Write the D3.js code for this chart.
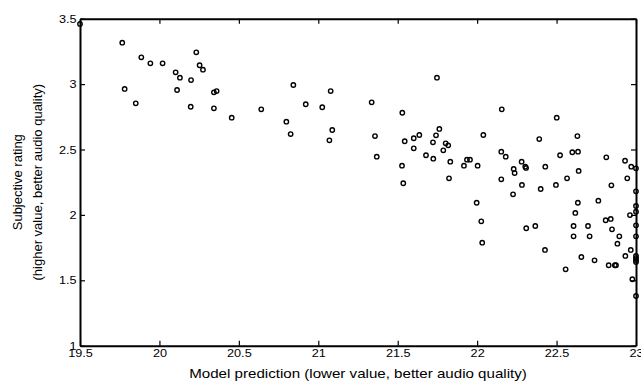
<!DOCTYPE html>
<html>
<head>
<meta charset="utf-8">
<script src="https://cdn.jsdelivr.net/npm/d3@7"></script>
<style>
  body { margin: 0; background: #fff; }
  text { font-family: "Liberation Sans", Arial, Helvetica, sans-serif; }
</style>
</head>
<body>
<div id="chart"></div>
<script>
// model prediction (x) and subjective rating (y)
const prediction = [
    19.5, 19.766, 19.781, 19.851, 19.886, 19.943, 20.02, 20.102, 20.129, 20.111,
    20.199, 20.232, 20.253, 20.274, 20.197, 20.343, 20.36, 20.343, 20.455, 20.641,
    20.799, 20.826, 20.843, 20.921, 21.025, 21.078, 21.088, 21.07, 21.336, 21.357,
    21.368, 21.529, 21.527, 21.535, 21.544, 21.601, 21.601, 21.636, 21.747, 21.678,
    21.724, 21.722, 21.741, 21.762, 21.787, 21.802, 21.818, 21.831, 21.823, 21.917,
    21.936, 21.955, 22.003, 22.039, 22.155, 22.152, 22.18, 22.152, 22.23, 22.236,
    22.28, 22.303, 22.308, 22.282, 22.391, 22.429, 22.4, 22.501, 22.522, 22.496,
    22.566, 22.599, 22.635, 22.631, 22.639, 22.813, 22.845, 22.931, 22.945, 22.97,
    22.226, 21.997, 22.026, 22.032, 22.309, 22.366, 22.427, 22.557, 22.634, 22.618,
    22.607, 22.607, 22.698, 22.708, 22.656, 22.739, 22.763, 22.809, 22.841, 22.849,
    22.895, 22.883, 22.828, 22.867, 22.874, 22.933, 22.967, 22.962, 22.977,
    23, 23, 23, 23, 23, 23, 23, 23, 23, 23, 23
];
const rating = [
    3.46, 3.317, 2.963, 2.853, 3.205, 3.159, 3.159, 3.09, 3.049, 2.955,
    3.031, 3.243, 3.144, 3.11, 2.827, 2.937, 2.947, 2.815, 2.743, 2.807,
    2.713, 2.618, 2.993, 2.846, 2.823, 2.947, 2.649, 2.57, 2.861, 2.603,
    2.445, 2.781, 2.376, 2.242, 2.563, 2.586, 2.509, 2.611, 3.049, 2.456,
    2.43, 2.555, 2.608, 2.657, 2.494, 2.547, 2.532, 2.407, 2.28, 2.376,
    2.422, 2.422, 2.376, 2.611, 2.807, 2.483, 2.445, 2.272, 2.351, 2.32,
    2.407, 2.369, 2.359, 2.229, 2.58, 2.369, 2.198, 2.743, 2.456, 2.229,
    2.28, 2.479, 2.483, 2.603, 2.336, 2.44, 2.226, 2.414, 2.28, 2.369,
    2.157, 2.093, 1.951, 1.788, 1.898, 1.915, 1.732, 1.584, 2.093, 2.015,
    1.915, 1.836, 1.915, 1.836, 1.678, 1.653, 2.109, 1.959, 1.969, 1.89,
    1.836, 1.78, 1.615, 1.615, 1.615, 1.686, 1.732, 1.999, 1.508,
    2.356, 2.18, 2.068, 2.024, 1.92, 1.836, 1.686, 1.67, 1.655, 1.64, 1.38
];
const xTicks = [19.5, 20, 20.5, 21, 21.5, 22, 22.5, 23];
const yTicks = [1, 1.5, 2, 2.5, 3, 3.5];
const xTitle = "Model prediction (lower value, better audio quality)";
const yTitle = ["Subjective rating", "(higher value, better audio quality)"];

const data = prediction.map((p, i) => ({ x: p, y: rating[i] }));

// chart dimensions and margins
const width = 641;
const height = 381;
const marginTop = 18.7;
const marginRight = 5;
const marginBottom = 35.3;
const marginLeft = 80;

const x = d3.scaleLinear()
    .domain([19.5, 23])
    .range([marginLeft, width - marginRight]);

const y = d3.scaleLinear()
    .domain([1, 3.5])
    .range([height - marginBottom, marginTop]);

const svg = d3.select("#chart")
    .append("svg")
    .attr("width", width)
    .attr("height", height)
    .attr("viewBox", [0, 0, width, height]);

const fmt = d => String(d);

// the source picture is a bit wider than tall, so horizontal text is stretched
const stretch = "scale(1.13,1)";

// bottom axis, ticks pointing inward
svg.append("g")
    .attr("transform", `translate(0,${height - marginBottom})`)
    .call(d3.axisBottom(x).tickValues(xTicks).tickFormat(fmt).tickSizeInner(-5).tickSizeOuter(0).tickPadding(3))
    .call(g => g.selectAll("text").attr("font-size", 11.2).attr("fill", "#000").attr("transform", stretch));

// top axis, ticks only
svg.append("g")
    .attr("transform", `translate(0,${marginTop})`)
    .call(d3.axisTop(x).tickValues(xTicks).tickFormat("").tickSizeInner(-5).tickSizeOuter(0));

// left axis
svg.append("g")
    .attr("transform", `translate(${marginLeft},0)`)
    .call(d3.axisLeft(y).tickValues(yTicks).tickFormat(fmt).tickSizeInner(-5).tickSizeOuter(0).tickPadding(3))
    .call(g => g.selectAll("text").attr("font-size", 11.2).attr("fill", "#000").attr("transform", stretch));

// right axis, ticks only
svg.append("g")
    .attr("transform", `translate(${width - marginRight},0)`)
    .call(d3.axisRight(y).tickValues(yTicks).tickFormat("").tickSizeInner(-5).tickSizeOuter(0));

svg.selectAll(".domain").attr("stroke", "#000").attr("stroke-width", 2);
svg.selectAll(".tick line").attr("stroke", "#000").attr("stroke-width", 1.2);

// the points
svg.append("g")
    .attr("fill", "none")
    .attr("stroke", "#000")
    .attr("stroke-width", 1.4)
    .selectAll()
    .data(data)
    .join("circle")
    .attr("cx", d => x(d.x))
    .attr("cy", d => y(d.y))
    .attr("r", 2.2);

// axis titles
svg.append("text")
    .attr("transform", `translate(${(marginLeft + width - marginRight) / 2},${height - 3}) scale(1.2,1)`)
    .attr("text-anchor", "middle")
    .attr("font-size", 12.6)
    .text(xTitle);

svg.append("g")
    .attr("transform", `translate(0,${(marginTop + height - marginBottom) / 2}) rotate(-90)`)
    .selectAll()
    .data(yTitle)
    .join("text")
    .attr("x", 0)
    .attr("y", (d, i) => 22 + i * 20)
    .attr("text-anchor", "middle")
    .attr("font-size", 13)
    .text(d => d);
</script>
</body>
</html>
